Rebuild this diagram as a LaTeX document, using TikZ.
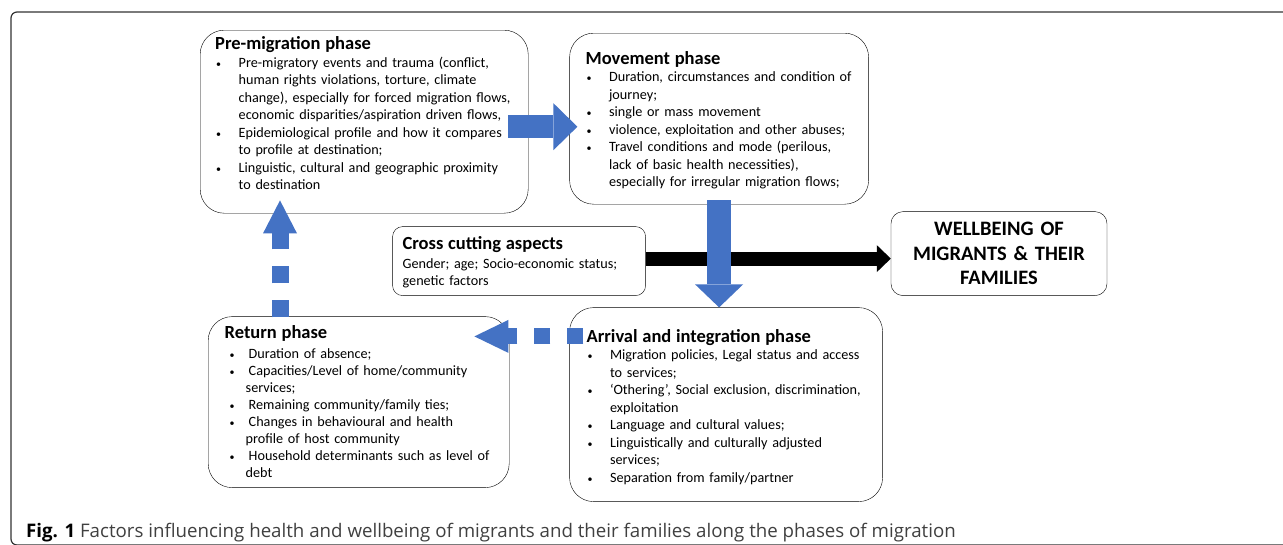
\documentclass[tikz,border=0pt]{standalone}
\usepackage{fontspec}
\setmainfont{Carlito}
\newfontfamily\captionfont{Open Sans}
\usepackage{enumitem}
\usetikzlibrary{positioning, arrows.meta}
\definecolor{flowblue}{HTML}{4472C4}
\setlist[itemize]{nosep, label={\fontsize{10}{10}\selectfont\textbullet}, align=left, leftmargin=23.5pt, labelindent=1pt, labelsep=15pt, labelwidth=!, rightmargin=-30pt}
\newcommand{\phasetitle}[1]{{\fontsize{18.5}{22}\selectfont\bfseries #1}\par}
\tikzset{
  phase/.style={draw, fill=white, rounded corners=24pt, align=left, inner ysep=0pt, font=\fontsize{14.2}{17.5}\selectfont},
  aspects/.style={draw, fill=white, rounded corners=10pt, align=left, inner ysep=0pt, inner xsep=10pt, font=\fontsize{14.2}{17}\selectfont},
  outcome/.style={draw, fill=white, rounded corners=12pt, align=center, inner ysep=0pt, inner xsep=0pt, font=\fontsize{20.5}{24.5}\selectfont\bfseries},
  flow/.style={draw=flowblue},
}

\begin{document}
\begin{tikzpicture}[x=1pt, y=-1pt]
            \useasboundingbox (0,0) rectangle (1283,544);
            \draw[black!80, line width=1.2pt, rounded corners=6pt] (11,12) rectangle (1300,545);

            \node[phase, anchor=north west, inner xsep=15pt, text width=298pt, text height=19.5pt, text depth=163.5pt] (premig) at (200,30) {\phasetitle{Pre-migration phase}
              \begin{itemize}
                \item Pre-migratory events and trauma (conflict,\\ human rights violations, torture, climate\\ change), especially for forced migration flows,\\ economic disparities/aspiration driven flows,
                \item Epidemiological profile and how it compares\\ to profile at destination;
                \item Linguistic, cultural and geographic proximity\\ to destination
              \end{itemize}};
            \node[phase, right=41pt of premig.north east, anchor=north west, yshift=-3pt, inner xsep=16pt, text width=267pt, text height=31pt, text depth=140pt] (move) {\phasetitle{Movement phase}
              \begin{itemize}
                \item Duration, circumstances and condition of\\ journey;
                \item single or mass movement
                \item violence, exploitation and other abuses;
                \item Travel conditions and mode (perilous,\\ lack of basic health necessities),\\ especially for irregular migration flows;
              \end{itemize}};
            \node[phase, below=103pt of move.south west, anchor=north west, inner xsep=17pt, text width=279pt, text height=34.5pt, text depth=159.5pt] (arrival) {\phasetitle{Arrival and integration phase}
              \begin{itemize}
                \item Migration policies, Legal status and access\\ to services;
                \item ‘Othering’, Social exclusion, discrimination,\\ exploitation
                \item Language and cultural values;
                \item Linguistically and culturally adjusted\\ services;
                \item Separation from family/partner
              \end{itemize}};
            \node[phase, below=103pt of premig.south west, anchor=north west, xshift=8pt, inner xsep=16.5pt, text width=268pt, text height=22pt, text depth=149pt, font=\fontsize{14.2}{17}\selectfont] (ret) {\phasetitle{Return phase}\vspace{3pt}
              \begin{itemize}[labelindent=5pt, labelwidth=!, labelsep=14pt, leftmargin=21pt]
                \item Duration of absence;
                \item Capacities/Level of home/community\\ services;
                \item Remaining community/family ties;
                \item Changes in behavioural and health\\ profile of host community
                \item Household determinants such as level of\\ debt
              \end{itemize}};
            \node[aspects, below left=22pt and 177pt of move.south west, anchor=north west, text width=233pt, text height=23pt, text depth=46pt] (cross) {\phasetitle{Cross cutting aspects}\vspace{2pt}
              Gender; age; Socio-economic status;\\ genetic factors};
            \node[outcome, right=22pt of move.south east, anchor=north west, yshift=-7pt, text width=216pt, text height=24pt, text depth=60pt] (well) {WELLBEING OF\\ MIGRANTS \& THEIR\\ FAMILIES};

            \draw[line width=14pt, -{Triangle[length=14pt 0 0, width=27pt 0 0, line width=0pt]}] ([yshift=2.5pt]cross.east) -- ([yshift=-5pt]well.west);
            \draw[flow, line width=23pt, -{Triangle[length=24pt 0 0, width=47pt 0 0, line width=0pt]}] ([xshift=-20pt, yshift=-5pt]premig.east) -- ([xshift=8pt, yshift=-8pt]move.west);
            \draw[flow, line width=24pt, -{Triangle[length=23pt 0 0, width=48pt 0 0, line width=0pt]}] ([yshift=4pt]move.south) -- (move.south |- arrival.north);
            \draw[flow, line width=16pt, dash pattern=on 16pt off 17pt, -{Triangle[length=34pt 0 0, width=33pt 0 0, line width=0pt]}] ([xshift=14pt, yshift=-29pt]arrival.north west) -- ([xshift=-35pt, yshift=-20pt]ret.north east);
            \draw[flow, line width=17pt, dash pattern=on 17pt off 17pt, -{Triangle[length=33pt 0 0, width=34pt 0 0, line width=0pt]}] ([xshift=72pt, yshift=-1pt]ret.north west) -- ([xshift=80pt, yshift=13pt]premig.south west);

            \node[anchor=base west, inner sep=0pt, text=black!75, font=\captionfont\fontsize{18.7}{20}\selectfont] (caption) at (26,537) {{\color{black}\bfseries Fig. 1} Factors influencing health and wellbeing of migrants and their families along the phases of migration};
\end{tikzpicture}
\end{document}
